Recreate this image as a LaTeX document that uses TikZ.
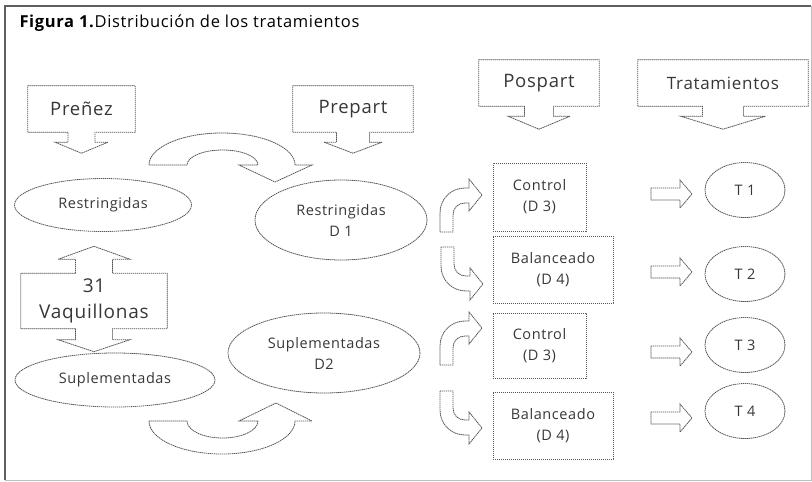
\documentclass[tikz,border=0pt]{standalone}
\usepackage{fontspec}
\setmainfont{Open Sans}[LetterSpace=4]
\usetikzlibrary{shapes.geometric,calc}
\definecolor{linegray}{RGB}{85,85,85}
\definecolor{textgray}{RGB}{55,55,55}
\definecolor{framedark}{RGB}{95,95,95}
\definecolor{framelight}{RGB}{190,190,190}

% box with a block arrow hanging below it
\newcommand{\downcallout}[4]{% node, half shaft, half head, head length
  \draw[outline] (#1.south west) -- (#1.north west) -- (#1.north east) -- (#1.south east)
    -- ($(#1.south)+(#2,0)$) -- ($(#1.south)+(#2,10)$) -- ($(#1.south)+(#3,10)$)
    -- ($(#1.south)+(0,10+#4)$) -- ($(#1.south)+(-#3,10)$) -- ($(#1.south)+(-#2,10)$)
    -- ($(#1.south)+(-#2,0)$) -- cycle;}

\begin{document}
\begin{tikzpicture}[x=1pt, y=-1pt,
    outline/.style={draw=linegray, line width=0.8pt, dash pattern=on 1.4pt off 0.6pt},
    callout/.style={rectangle, inner sep=0pt, minimum height=46pt, font=\fontsize{18.5}{22}\selectfont, text=textgray},
    oval/.style={ellipse, outline, inner sep=0pt, align=center, font=\fontsize{14.5}{21}\selectfont, text=textgray},
    dietbox/.style={rectangle, outline, inner sep=0pt, align=center, font=\fontsize{14.5}{21}\selectfont, text=textgray},
    treat/.style={ellipse, outline, inner sep=0pt, minimum width=80pt, minimum height=55pt, font=\fontsize{14.5}{15}\selectfont, text=textgray},
    rarrow/.pic={\draw[outline] (0,-6) -- (29,-6) -- (29,-14) -- (41,0) -- (29,14) -- (29,6) -- (0,6) -- cycle;},
    bendup/.pic={\draw[outline] (0,0) -- (0,-19) .. controls (0,-33) and (11,-44) .. (25,-44) -- (29,-44)
        -- (29,-53) -- (42,-37) -- (29,-21) -- (29,-29) -- (25,-29)
        .. controls (18,-29) and (13,-24) .. (13,-17) -- (13,0) -- cycle;}
]
    \useasboundingbox (0,0) rectangle (812,482);

    % Frame
    \draw[framelight, line width=1pt] (811,6) -- (811,480) -- (5,480);
    \draw[framedark, line width=1.6pt] (5,480) -- (5,6) -- (811,6);

    % Title
    \node[anchor=west, font=\fontsize{16.5}{18}\selectfont] (title) at (16,23)
        {\textbf{Figura 1.}Distribución de los tratamientos};

    % Stage headers
    \node[callout, minimum width=107pt] (prenez) at (81.5,109) {Preñez};
    \node[callout, minimum width=120pt] (prepart) at (353,109) {Prepart};
    \node[callout, minimum width=120pt] (pospart) at (539,83) {Pospart};
    \node[callout, minimum width=170pt, font=\fontsize{17}{20}\selectfont] (tratam) at (723,83) {Tratamientos};
    \downcallout{prenez}{13.5}{26.5}{11}
    \downcallout{prepart}{16.5}{29}{11}
    \downcallout{pospart}{14.5}{31}{13}
    \downcallout{tratam}{20.5}{42.5}{13}

    % Heifers
    \node[callout, minimum width=146pt, minimum height=55pt, align=center, font=\fontsize{19}{26}\selectfont] (vaq) at (94,301) {31\\Vaquillonas};
    \draw[outline] (vaq.south west) -- (vaq.north west) -- ($(vaq.north)+(-18.5,0)$) -- ++(0,-14) -- ++(-17.5,0)
        -- ($(vaq.north)+(0,-27)$) -- ($(vaq.north)+(36,-14)$) -- ++(-17.5,0) -- ++(0,14)
        -- (vaq.north east) -- (vaq.south east) -- ($(vaq.south)+(18.5,0)$) -- ++(0,11) -- ++(17.5,0)
        -- ($(vaq.south)+(0,23)$) -- ($(vaq.south)+(-36,11)$) -- ++(17.5,0) -- ++(0,-11) -- cycle;

    % Groups
    \node[oval, minimum width=177pt, minimum height=53pt] (restr) at (103,205) {Restringidas};
    \node[oval, minimum width=172pt, minimum height=80pt] (restrD) at (341,220) {Restringidas\\D 1};
    \node[oval, minimum width=200pt, minimum height=54pt] (supl) at (115,380) {Suplementadas};
    \node[oval, minimum width=192pt, minimum height=80pt] (suplD) at (324,353) {Suplementadas\\D2};

    % U-turn arrows
    \draw[outline] (149,165) .. controls (149,147.3) and (181.7,133) .. (222,133)
        .. controls (262.3,133) and (295,147.3) .. (295,165) -- (312,165) -- (275,182) -- (239,165) -- (258,165)
        .. controls (258,156.7) and (242.1,150) .. (222.5,150) .. controls (202.9,150) and (187,156.7) .. (187,165) -- cycle;
    \draw[outline] (149,421) .. controls (149,439.2) and (181.7,454) .. (222,454)
        .. controls (262.3,454) and (295,439.2) .. (295,421) -- (312,421) -- (276,403) -- (239,421) -- (258,421)
        .. controls (258,430.4) and (242.1,438) .. (222.5,438) .. controls (202.9,438) and (187,430.4) .. (187,421) -- cycle;

    % Diets
    \node[dietbox, minimum width=93pt, minimum height=68pt] (ctrlA) at (539.5,197) {Control\\(D 3)};
    \node[dietbox, minimum width=120pt, minimum height=67pt] (balA) at (553,269.5) {Balanceado\\(D 4)};
    \node[dietbox, minimum width=93pt, minimum height=65pt] (ctrlB) at (539.5,345.5) {Control\\(D 3)};
    \node[dietbox, minimum width=120pt, minimum height=67pt] (balB) at (553,425.5) {Balanceado\\(D 4)};

    % Bent arrows into the diets
    \pic at (440,232) {bendup};
    \pic[yscale=-1] at (441,247) {bendup};
    \pic at (440,365) {bendup};
    \pic[yscale=-1] at (440,391) {bendup};

    % Treatments
    \foreach \i/\y in {1/190, 2/274, 3/345, 4/411}
        \node[treat] (t\i) at (745,\y) {T \i};
    \foreach \y in {194, 272, 352, 418}
        \pic at (651,\y) {rarrow};
\end{tikzpicture}
\end{document}
